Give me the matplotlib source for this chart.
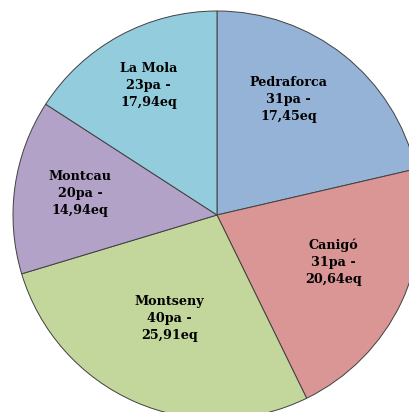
import matplotlib
matplotlib.use('Agg')
import numpy as np
import matplotlib.pyplot as plt

# Data
names = ['Pedraforca', 'Canigó', 'Montseny', 'Montcau', 'La Mola']
pa = [31, 31, 40, 20, 23]
eq = ['17,45', '20,64', '25,91', '14,94', '17,94']
colors = ['#95b3d7', '#d99694', '#c3d69b', '#b3a2c7', '#93cddd']
label_r = [0.665, 0.614, 0.557, 0.68, 0.717]
label_shift = [6.5, 3.5, -1.3, -0.7, -0.6]   # degrees from wedge middle

fig = plt.figure(figsize=(4.09, 4.12), dpi=100)
ax = fig.add_axes([0, 0, 1, 1])

wedges, _ = ax.pie(pa, colors=colors, startangle=90, counterclock=False,
                   radius=1.0,
                   wedgeprops=dict(edgecolor='#404040', linewidth=0.7))

# labels placed near each wedge's middle angle
for w, n, p, e, r, s in zip(wedges, names, pa, eq, label_r, label_shift):
    mid = np.deg2rad((w.theta1 + w.theta2) / 2 + s)
    ax.text(r * np.cos(mid), r * np.sin(mid), f'{n}\n{p}pa -\n{e}eq',
            ha='center', va='center', fontsize=9.2, fontweight='bold',
            family=['DejaVu Serif', 'Liberation Serif'], linespacing=1.4,
            color='black')

# pie is slightly cropped on the right and bottom
ax.set_xlim(-217 / 204, 192 / 204)
ax.set_ylim(-197 / 204, 215 / 204)
ax.set_aspect('equal')
ax.axis('off')

fig.savefig('out.png', dpi=100)
